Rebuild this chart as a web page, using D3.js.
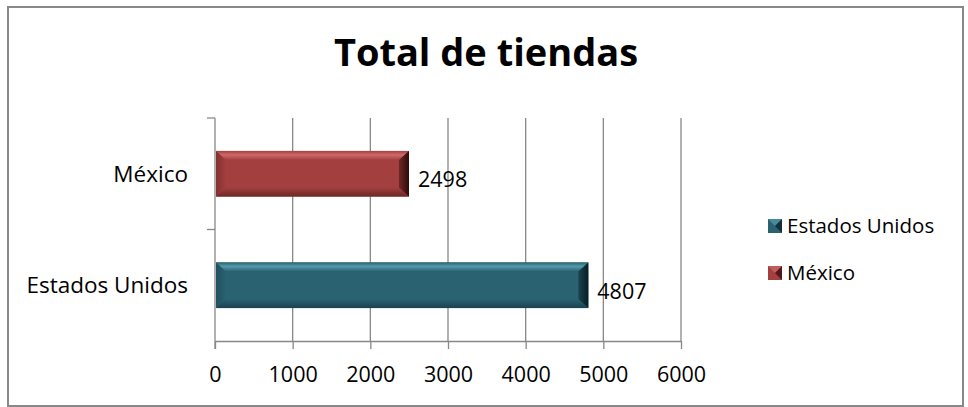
<!DOCTYPE html>
<html>
<head>
<meta charset="utf-8">
<script src="https://cdn.jsdelivr.net/npm/d3@7"></script>
<style>
  body { margin: 0; background: #fff; }
  svg { display: block; font-family: "Open Sans", sans-serif; }
</style>
</head>
<body>
<svg id="chart" width="968" height="407"></svg>
<script>
// data
const categories = ["México", "Estados Unidos"];
const values = [2498, 4807];
const xTicks = [0, 1000, 2000, 3000, 4000, 5000, 6000];
const legendItems = ["Estados Unidos", "México"];
const title = "Total de tiendas";

// colours per category (main, light, dark, edge)
const palette = {
  "México":         { main: "#a33f3f", light: "#d06a6a", dark: "#6e2626", edge: "#2e0b0b" },
  "Estados Unidos": { main: "#2a6272", light: "#559aab", dark: "#1a4350", edge: "#071e25" }
};

const W = 968, H = 407;
const margin = { top: 118, left: 215, right: 287, bottom: 66 };

const svg = d3.select("#chart");

// frame
svg.append("rect")
  .attr("x", 8).attr("y", 7)
  .attr("width", 955).attr("height", 399)
  .attr("fill", "#fff")
  .attr("stroke", "#888").attr("stroke-width", 2);

// title
svg.append("text")
  .attr("x", 486).attr("y", 66)
  .attr("text-anchor", "middle")
  .attr("font-size", 38).attr("font-weight", 700)
  .attr("fill", "#000")
  .text(title);

const x = d3.scaleLinear().domain([0, 6000]).range([margin.left, W - margin.right]);
const y = d3.scaleBand().domain(categories)
  .range([margin.top, H - margin.bottom])
  .paddingInner(0.59).paddingOuter(0.295);
const yOuter = d3.scaleBand().domain(categories).range([margin.top, H - margin.bottom]);

// gridlines
svg.append("g")
  .selectAll("line")
  .data(xTicks.slice(1))
  .join("line")
  .attr("x1", d => x(d)).attr("x2", d => x(d))
  .attr("y1", margin.top).attr("y2", H - margin.bottom)
  .attr("stroke", "#888").attr("stroke-width", 1.3);

// x axis
const xAxis = svg.append("g")
  .attr("transform", `translate(0,${H - margin.bottom})`)
  .call(d3.axisBottom(x).tickValues(xTicks).tickFormat(d3.format("d"))
    .tickSize(8).tickSizeOuter(0));
xAxis.select(".domain").attr("stroke", "#888").attr("stroke-width", 1.3);
xAxis.selectAll(".tick line").attr("stroke", "#888").attr("stroke-width", 1.3);
xAxis.selectAll("text")
  .attr("y", 33).attr("dy", "0.35em")
  .attr("font-size", 21.5).attr("fill", "#000")
  .attr("font-family", "Open Sans, sans-serif");

// y axis (ticks between categories)
const yAx = svg.append("g").attr("transform", `translate(${margin.left},0)`);
yAx.append("line")
  .attr("x1", 0).attr("x2", 0)
  .attr("y1", margin.top).attr("y2", H - margin.bottom + 8)
  .attr("stroke", "#888").attr("stroke-width", 1.3);
yAx.selectAll(".ytick")
  .data([margin.top, yOuter(categories[1])])
  .join("line")
  .attr("x1", -8).attr("x2", 0)
  .attr("y1", d => d).attr("y2", d => d)
  .attr("stroke", "#888").attr("stroke-width", 1.3);
yAx.selectAll(".ylab")
  .data(categories)
  .join("text")
  .attr("x", -27)
  .attr("y", d => yOuter(d) + yOuter.bandwidth() / 2)
  .attr("dy", "0.35em")
  .attr("text-anchor", "end")
  .attr("font-size", 22.5).attr("fill", "#000")
  .text(d => d);

// bevelled bars
const defs = svg.append("defs");
categories.forEach((c, i) => {
  const p = palette[c];
  const g = defs.append("linearGradient").attr("id", "gv" + i)
    .attr("x1", 0).attr("y1", 0).attr("x2", 0).attr("y2", 1);
  g.append("stop").attr("offset", "0").attr("stop-color", p.main);
  g.append("stop").attr("offset", "0.45").attr("stop-color", p.light);
  g.append("stop").attr("offset", "1").attr("stop-color", p.main);
  const gb = defs.append("linearGradient").attr("id", "gb" + i)
    .attr("x1", 0).attr("y1", 0).attr("x2", 0).attr("y2", 1);
  gb.append("stop").attr("offset", "0").attr("stop-color", p.main);
  gb.append("stop").attr("offset", "1").attr("stop-color", p.dark);
  const gr = defs.append("linearGradient").attr("id", "gr" + i)
    .attr("x1", 0).attr("y1", 0).attr("x2", 1).attr("y2", 0);
  gr.append("stop").attr("offset", "0").attr("stop-color", p.dark);
  gr.append("stop").attr("offset", "1").attr("stop-color", p.edge);
  const gl = defs.append("linearGradient").attr("id", "gl" + i)
    .attr("x1", 0).attr("y1", 0).attr("x2", 1).attr("y2", 0);
  gl.append("stop").attr("offset", "0").attr("stop-color", p.dark);
  gl.append("stop").attr("offset", "1").attr("stop-color", p.main);
});

const bev = 10, bevV = 9;
const bars = svg.append("g").selectAll("g")
  .data(categories.map((c, i) => ({ c, v: values[i], i })))
  .join("g");

bars.each(function(d) {
  const g = d3.select(this);
  const x0 = x(0) + 1, x1 = x(d.v), y0 = y(d.c), y1 = y0 + y.bandwidth();
  g.append("rect").attr("x", x0).attr("y", y0).attr("width", x1 - x0).attr("height", y1 - y0)
    .attr("fill", palette[d.c].main);
  // top bevel
  g.append("polygon")
    .attr("points", [[x0, y0], [x1, y0], [x1 - bev, y0 + bevV], [x0 + bev, y0 + bevV]].join(" "))
    .attr("fill", `url(#gv${d.i})`);
  // bottom bevel
  g.append("polygon")
    .attr("points", [[x0, y1], [x1, y1], [x1 - bev, y1 - bevV], [x0 + bev, y1 - bevV]].join(" "))
    .attr("fill", `url(#gb${d.i})`);
  // left bevel
  g.append("polygon")
    .attr("points", [[x0, y0], [x0 + bev, y0 + bevV], [x0 + bev, y1 - bevV], [x0, y1]].join(" "))
    .attr("fill", `url(#gl${d.i})`).attr("opacity", 0.6);
  // right bevel
  g.append("polygon")
    .attr("points", [[x1, y0], [x1 - bev, y0 + bevV], [x1 - bev, y1 - bevV], [x1, y1]].join(" "))
    .attr("fill", `url(#gr${d.i})`);
});

// data labels
svg.append("g").selectAll("text")
  .data(categories.map((c, i) => ({ c, v: values[i] })))
  .join("text")
  .attr("x", d => x(d.v) + 9)
  .attr("y", d => y(d.c) + y.bandwidth() / 2 + 6)
  .attr("dy", "0.35em")
  .attr("font-size", 21.5).attr("fill", "#000")
  .text(d => d.v);

// legend
const leg = svg.append("g").selectAll("g")
  .data(legendItems)
  .join("g")
  .attr("transform", (d, i) => `translate(768,${219 + i * 47})`);
leg.append("rect").attr("width", 14).attr("height", 14)
  .attr("fill", d => palette[d].main);
leg.append("polygon")
  .attr("points", "0,0 14,0 7,7")
  .attr("fill", d => palette[d].light).attr("opacity", 0.7);
leg.append("polygon")
  .attr("points", "14,0 14,14 7,7")
  .attr("fill", d => palette[d].edge).attr("opacity", 0.7);
leg.append("text")
  .attr("x", 19).attr("y", 7).attr("dy", "0.35em")
  .attr("font-size", 20.5).attr("fill", "#000")
  .text(d => d);
</script>
</body>
</html>
